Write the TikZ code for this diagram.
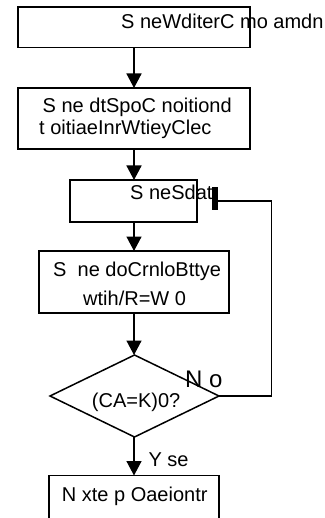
\documentclass[tikz,border=0pt]{standalone}
\usepackage{fontspec}
\setmainfont{Liberation Sans}
\usetikzlibrary{arrows.meta,shapes.geometric}
\begin{document}
\begin{tikzpicture}[x=1pt,y=-1pt,
  boxnode/.style={draw,line width=1.5pt,inner sep=0pt,outer sep=0pt},
  txt/.style={inner sep=0pt,anchor=base west,font=\fontsize{20}{22}\selectfont},
  bigtxt/.style={inner sep=0pt,anchor=base west,font=\fontsize{24}{26}\selectfont},
  conn/.style={line width=1.5pt},
  arr/.style={conn,-{Triangle[length=14.5pt,width=15pt]}}]
\useasboundingbox (0,0) rectangle (324,518);
\clip (0,0) rectangle (324,518);
% boxes
\node[boxnode,minimum width=232pt,minimum height=40.5pt] (b1) at (134,27.25) {};
\node[boxnode,minimum width=232pt,minimum height=61pt] (b2) at (134,118.5) {};
\node[boxnode,minimum width=127pt,minimum height=42pt] (b3) at (133.5,201) {};
\node[boxnode,minimum width=190pt,minimum height=62pt] (b4) at (134,282) {};
\node[boxnode,diamond,minimum width=169pt,minimum height=82pt] (d) at (134.5,396) {};
\node[boxnode,minimum width=170pt,minimum height=60pt] (b5) at (134,505.5) {};
% texts
\node[txt] (t1) at (121,28.5) {S neWditerC mo amdn};
\node[txt] (t2a) at (42.5,113) {S ne dtSpoC noitiond};
\node[txt] (t2b) at (39,134.7) {t oitiaeInrWtieyClec};
\node[txt] (t3) at (130,199.5) {S neSdat};
\node[txt] (t4a) at (53,276) {S\ \ ne doCrnloBttye};
\node[txt] (t4b) at (83,305) {wtih/R=W 0};
\node[txt] (t5) at (91.7,407) {(CA=K)0?};
\node[txt] (yes) at (148.3,466.7) {Y se};
\node[txt] (t6) at (61.7,501.7) {N xte p Oaeiontr};
\node[bigtxt] (no) at (185,387) {N o};
% bar
\node[fill=black,inner sep=0pt,minimum width=6.5pt,minimum height=23pt] (bar) at (215,198.7) {};
% connectors
\draw[arr] (b1.south -| 134,0) -- (b2.north -| 134,0);
\draw[arr] (b2.south -| 134,0) -- (b3.north -| 134,0);
\draw[arr] (b3.south -| 134,0) -- (b4.north -| 134,0);
\draw[arr] (b4.south -| 134,0) -- (d.north -| 134,0);
\draw[arr] (d.south -| 134,0) -- (b5.north -| 134,0);
\coordinate (c1) at (271.5,396);
\coordinate (c2) at (271.5,201);
\draw[conn] (d.east) -- (c1) -- (c2) -- (bar.east |- c2);
\end{tikzpicture}
\end{document}
